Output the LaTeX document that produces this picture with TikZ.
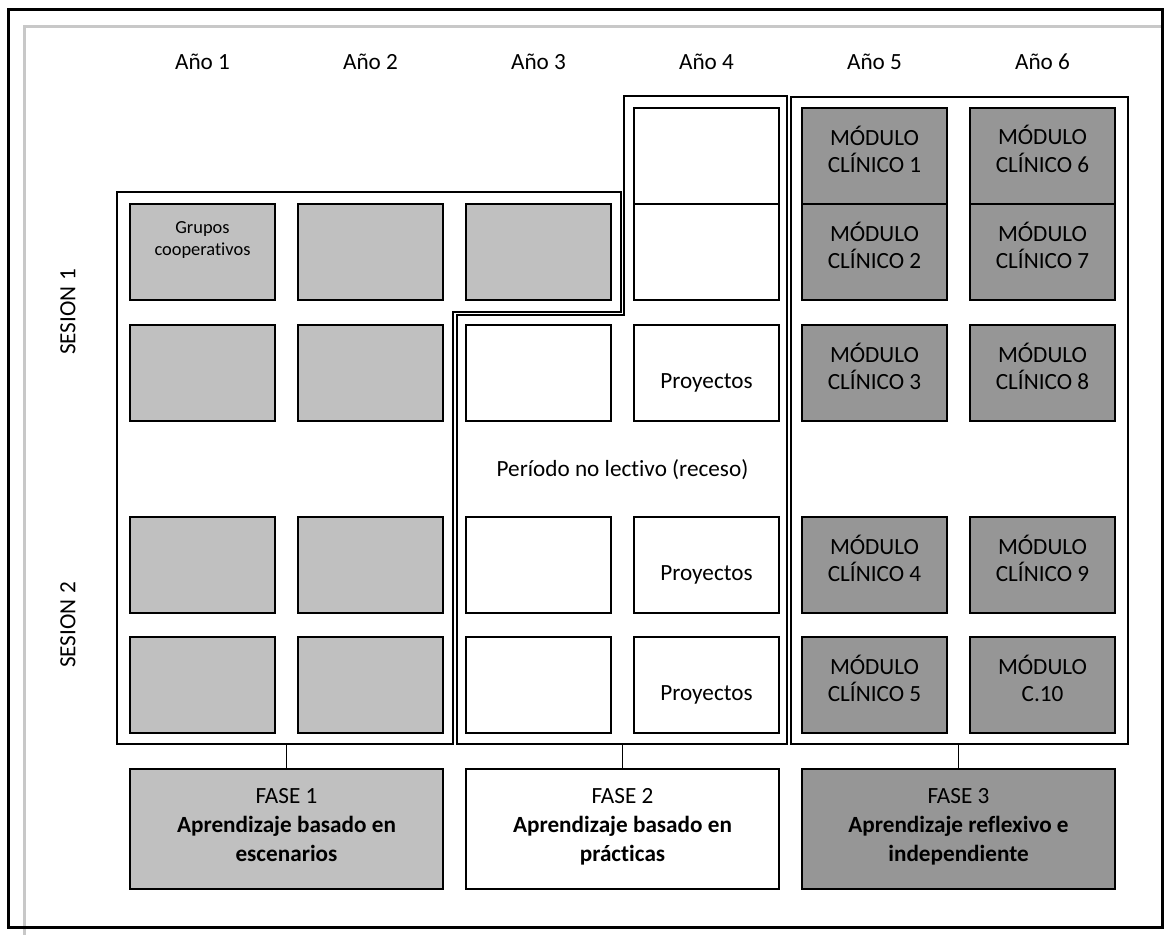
\documentclass[tikz,border=0pt]{standalone}
\usepackage{fontspec}
\setmainfont{Carlito}[Ligatures=NoCommon]
\definecolor{fgris1}{RGB}{192,192,192}
\definecolor{fgris3}{RGB}{150,150,150}
\definecolor{fmarco}{RGB}{200,200,200}
\tikzset{
  cell/.style={draw, line width=1pt, minimum width=72.5pt, minimum height=48pt, inner sep=0pt},
  kfase1/.style={cell, fill=fgris1}, kfase2/.style={cell, fill=white},
  kfase3/.style={cell, fill=fgris3},
  txt/.style={font=\fontsize{11.6}{13.6}\selectfont, align=center, inner sep=0pt},
  small/.style={font=\fontsize{9.2}{10.6}\selectfont, align=center, inner sep=0pt},
  kphase/.style={draw, line width=1pt, minimum width=156.5pt, minimum height=60pt, inner sep=0pt,
    align=center, font=\fontsize{11.6}{14.5}\selectfont, execute at end node={\strut}},
  outline/.style={line width=0.7pt},
  link/.style={line width=0.7pt},
}
\begin{document}
\begin{tikzpicture}[x=0.5pt, y=-0.5pt]
    \useasboundingbox (0,0) rectangle (1165,935);
    % frame
    \draw[fmarco, line width=1.5pt] (24,935) -- (24,27) -- (1161,27);
    \draw[line width=1.5pt] (8,10) rectangle (1162,927);
    % headers
    \node[txt] (y1) at (202.5,62) {Año 1};
    \node[txt] (y2) at (370.5,62) {Año 2};
    \node[txt] (y3) at (538.5,62) {Año 3};
    \node[txt] (y4) at (706.5,62) {Año 4};
    \node[txt] (y5) at (874.5,62) {Año 5};
    \node[txt] (y6) at (1042.5,62) {Año 6};
    \node[txt, rotate=90] (s1) at (68,312) {SESION 1};
    \node[txt, rotate=90] (s2) at (68,625) {SESION 2};
    % phase outlines
    \draw[outline] (117,192) -- (621,192) -- (621,312) -- (453,312) -- (453,744) -- (117,744) -- cycle;
    \draw[outline] (624,96) -- (787,96) -- (787,744) -- (457,744) -- (457,315) -- (624,315) -- cycle;
    \draw[outline] (791,97) rectangle (1128,744);
    % fase 1
    \node[kfase1] (g11) at (202.5,252) {};
    \node[kfase1] (g21) at (370.5,252) {};
    \node[kfase1] (g31) at (538.5,252) {};
    \node[kfase1] (g12) at (202.5,373) {};
    \node[kfase1] (g22) at (370.5,373) {};
    \node[kfase1] (g13) at (202.5,565) {};
    \node[kfase1] (g23) at (370.5,565) {};
    \node[kfase1] (g14) at (202.5,685) {};
    \node[kfase1] (g24) at (370.5,685) {};
    \node[small] (grupos) at ([yshift=6pt]g11) {Grupos\\cooperativos};
    % fase 2
    \node[kfase2] (w40) at (706.5,156) {};
    \node[kfase2] (w41) at (706.5,252) {};
    \node[kfase2] (w32) at (538.5,373) {};
    \node[kfase2] (w42) at (706.5,373) {};
    \node[kfase2] (w33) at (538.5,565) {};
    \node[kfase2] (w43) at (706.5,565) {};
    \node[kfase2] (w34) at (538.5,685) {};
    \node[kfase2] (w44) at (706.5,685) {};
    \node[txt] (p2) at ([yshift=-5pt]w42) {Proyectos};
    \node[txt] (p3) at ([yshift=-5pt]w43) {Proyectos};
    \node[txt] (p4) at ([yshift=-5pt]w44) {Proyectos};
    \node[txt] (receso) at (622.5,470) {Período no lectivo (receso)};
    % fase 3
    \node[kfase3] (m1) at (874.5,156) {};
    \node[kfase3] (m2) at (874.5,252) {};
    \node[kfase3] (m3) at (874.5,373) {};
    \node[kfase3] (m4) at (874.5,565) {};
    \node[kfase3] (m5) at (874.5,685) {};
    \node[kfase3] (m6) at (1042.5,156) {};
    \node[kfase3] (m7) at (1042.5,252) {};
    \node[kfase3] (m8) at (1042.5,373) {};
    \node[kfase3] (m9) at (1042.5,565) {};
    \node[kfase3] (m10) at (1042.5,685) {};
    \node[txt] (t1) at ([yshift=3.5pt]m1) {MÓDULO\\CLÍNICO 1};
    \node[txt] (t2) at ([yshift=3.5pt]m2) {MÓDULO\\CLÍNICO 2};
    \node[txt] (t3) at ([yshift=3.5pt]m3) {MÓDULO\\CLÍNICO 3};
    \node[txt] (t4) at ([yshift=3.5pt]m4) {MÓDULO\\CLÍNICO 4};
    \node[txt] (t5) at ([yshift=3.5pt]m5) {MÓDULO\\CLÍNICO 5};
    \node[txt] (t6) at ([yshift=3.5pt]m6) {MÓDULO\\CLÍNICO 6};
    \node[txt] (t7) at ([yshift=3.5pt]m7) {MÓDULO\\CLÍNICO 7};
    \node[txt] (t8) at ([yshift=3.5pt]m8) {MÓDULO\\CLÍNICO 8};
    \node[txt] (t9) at ([yshift=3.5pt]m9) {MÓDULO\\CLÍNICO 9};
    \node[txt] (t10) at ([yshift=3.5pt]m10) {MÓDULO\\C.10};
    % phases
    \node[kphase, fill=fgris1] (fase1) at (286.5,829) {FASE 1\\\textbf{Aprendizaje basado en}\\\textbf{escenarios}};
    \node[kphase, fill=white] (fase2) at (622.5,829) {FASE 2\\\textbf{Aprendizaje basado en}\\\textbf{prácticas}};
    \node[kphase, fill=fgris3] (fase3) at (958.5,829) {FASE 3\\\textbf{Aprendizaje reflexivo e}\\\textbf{independiente}};
    \coordinate (b1) at (286.5,744);
    \coordinate (b2) at (622.5,744);
    \coordinate (b3) at (958.5,744);
    \draw[link] (fase1) -- (b1);
    \draw[link] (fase2) -- (b2);
    \draw[link] (fase3) -- (b3);
  \end{tikzpicture}
\end{document}
